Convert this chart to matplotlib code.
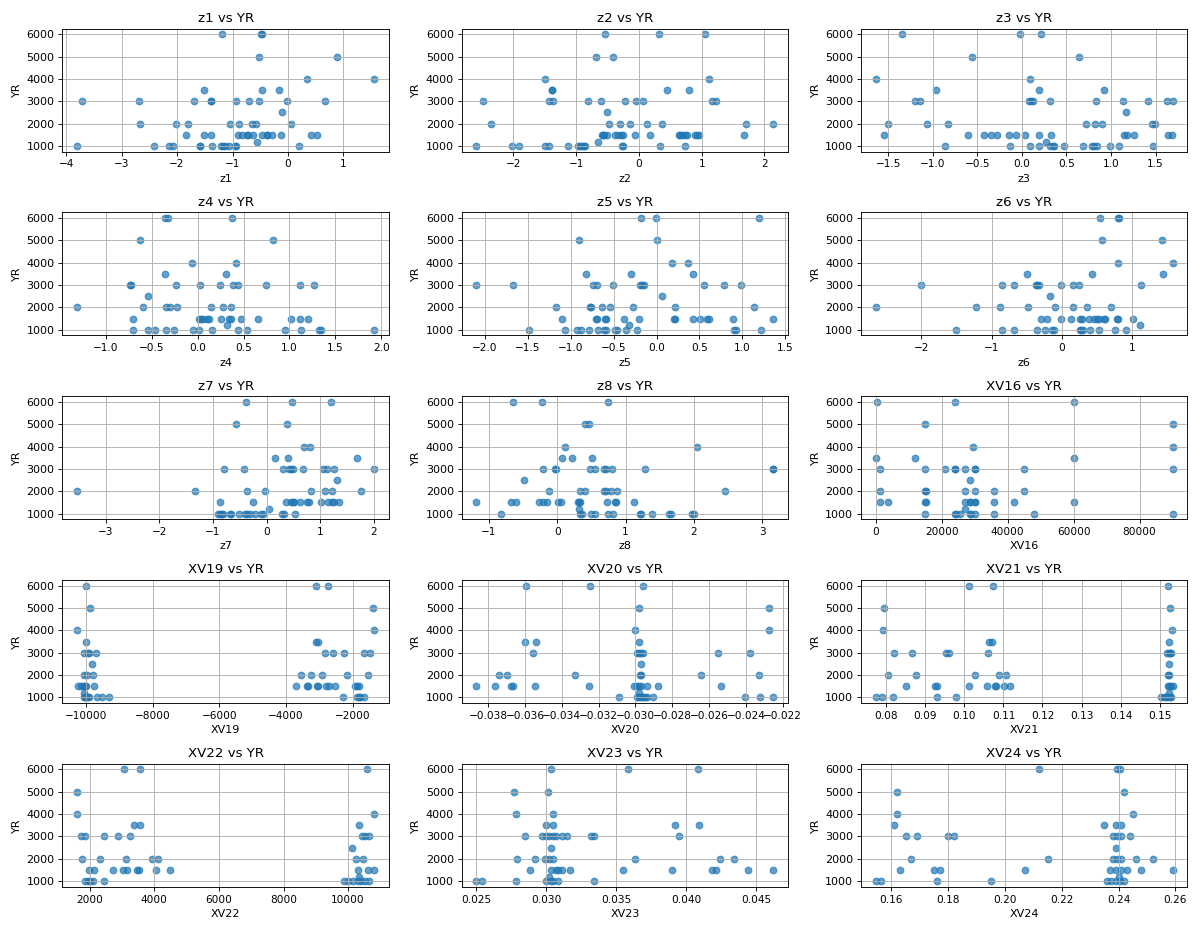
import matplotlib
matplotlib.use("Agg")
import matplotlib.pyplot as plt

# YR values, grouped by level (6000, 5000, 4000, 3500, 3000, 2500, 2000, 1500, 1200, 1000)

z1_x = [-1.19, -0.48, -0.47,
        -0.52, 0.89,
        0.34, 1.55,
        -1.52, -0.47, -0.17,
        -3.71, -2.68, -1.70, -1.39, -1.38, -0.93, -0.70, -0.53, -0.02, 0.66,
        -0.10,
        -2.66, -2.01, -1.81, -1.04, -0.89, -0.65, -0.57, 0.06,
        -1.83, -1.52, -1.39, -0.90, -0.83, -0.74, -0.72, -0.63, -0.46, -0.38, -0.37, -0.29, -0.13, 0.41, 0.52,
        -0.56,
        -3.80, -2.41, -2.14, -2.07, -1.59, -1.58, -1.37, -1.21, -1.18, -1.14, -1.06, -0.96, -0.94, 0.19]
z1_y = [6000]*3 + [5000]*2 + [4000]*2 + [3500]*3 + [3000]*10 + [2500] + [2000]*8 + [1500]*15 + [1200] + [1000]*14

z2_x = [-0.54, 0.32, 1.06,
        -0.69, -0.42,
        -1.50, 1.12,
        -1.39, -1.38, 0.44, 0.80,
        -2.49, -1.43, -1.37, -0.82, -0.60, -0.22, -0.05, 0.06, 1.17, 1.22,
        -0.51,
        -2.36, -0.47, -0.30, -0.15, 0.13, 0.36, 1.70, 2.14,
        -0.59, -0.57, -0.55, -0.51, -0.39, -0.33, -0.29, -0.26, -0.06, 0.18, 0.64, 0.66, 0.68, 0.73, 0.77, 0.90, 0.92, 0.95, 1.67,
        -0.66,
        -2.59, -2.03, -1.91, -1.50, -1.44, -1.13, -0.97, -0.94, -0.91, -0.88, -0.86, -0.27, -0.26, 0.33, 0.73]
z2_y = [6000]*3 + [5000]*2 + [4000]*2 + [3500]*4 + [3000]*10 + [2500] + [2000]*8 + [1500]*19 + [1200] + [1000]*15

z3_x = [-1.34, -0.02, 0.21,
        -0.56, 0.64,
        -1.64, 0.09,
        -0.96, 0.19, 0.92,
        -1.20, -1.14, 0.08, 0.10, 0.12, 0.32, 0.83, 1.13, 1.42, 1.63, 1.69,
        1.17,
        -1.50, -1.06, -0.83, 0.72, 0.82, 0.90, 1.46, 1.49,
        -1.55, -0.60, -0.42, -0.35, -0.28, -0.14, -0.07, 0.04, 0.19, 0.33, 1.15, 1.18, 1.26, 1.64, 1.68,
        0.27,
        -0.86, -0.13, 0.09, 0.19, 0.32, 0.35, 0.36, 0.47, 0.69, 0.79, 0.81, 0.84, 0.99, 1.09, 1.47]
z3_y = [6000]*3 + [5000]*2 + [4000]*2 + [3500]*3 + [3000]*11 + [2500] + [2000]*8 + [1500]*15 + [1200] + [1000]*15

z4_x = [-0.35, -0.32, 0.37,
        -0.63, 0.82,
        -0.06, 0.42,
        -0.35, 0.31,
        -0.73, -0.72, -0.23, 0.03, 0.24, 0.39, 0.44, 0.75, 1.12, 1.27,
        -0.54,
        -1.31, -0.59, -0.34, -0.30, -0.22, 0.15, 0.28, 0.36,
        -0.70, 0.02, 0.04, 0.06, 0.10, 0.12, 0.26, 0.34, 0.36, 0.47, 0.66, 1.02, 1.12, 1.20,
        0.32,
        -0.70, -0.54, -0.46, -0.34, -0.26, -0.05, 0.02, 0.16, 0.44, 0.54, 0.95, 1.13, 1.32, 1.34, 1.92]
z4_y = [6000]*3 + [5000]*2 + [4000]*2 + [3500]*2 + [3000]*10 + [2500] + [2000]*8 + [1500]*14 + [1200] + [1000]*15

z5_x = [-0.18, -0.01, 1.19,
        -0.90, 0.00,
        0.18, 0.37,
        -0.82, -0.30, 0.42,
        -2.10, -1.67, -0.74, -0.70, -0.51, -0.19, -0.17, -0.15, 0.55, 0.78, 0.98,
        0.06,
        -1.17, -0.78, -0.76, -0.64, -0.54, -0.28, 0.21, 1.14,
        -1.10, -0.71, -0.69, -0.60, -0.59, -0.38, -0.21, 0.20, 0.22, 0.42, 0.51, 0.59, 0.61, 0.89, 1.36,
        -0.32,
        -1.49, -1.07, -0.93, -0.88, -0.79, -0.68, -0.61, -0.59, -0.49, -0.46, -0.36, -0.23, 0.90, 0.93, 1.22]
z5_y = [6000]*3 + [5000]*2 + [4000]*2 + [3500]*3 + [3000]*11 + [2500] + [2000]*8 + [1500]*15 + [1200] + [1000]*15

z6_x = [0.54, 0.79, 0.81,
        0.56, 1.42,
        0.79, 1.57,
        -0.50, 0.42, 1.43,
        -2.01, -0.85, -0.69, -0.37, -0.36, -0.33, -0.01, 0.16, 0.24, 1.12,
        -0.17,
        -2.65, -1.23, -0.88, -0.49, -0.10, 0.15, 0.36, 0.70,
        -0.30, -0.21, -0.01, 0.13, 0.26, 0.28, 0.38, 0.46, 0.50, 0.53, 0.59, 0.61, 0.78, 0.80, 1.01,
        1.11,
        -1.51, -0.86, -0.69, -0.36, -0.24, -0.15, -0.11, 0.25, 0.27, 0.30, 0.39, 0.52, 0.75, 0.91]
z6_y = [6000]*3 + [5000]*2 + [4000]*2 + [3500]*3 + [3000]*10 + [2500] + [2000]*8 + [1500]*15 + [1200] + [1000]*14

z7_x = [-0.38, 0.48, 1.20,
        -0.57, 0.38,
        0.69, 0.81,
        0.15, 0.40, 1.68,
        -0.79, -0.42, 0.31, 0.42, 0.46, 0.50, 0.68, 1.05, 1.12, 1.26, 2.00,
        1.32,
        -3.53, -1.33, -0.37, -0.03, 0.83, 1.08, 1.22, 1.75,
        -0.87, -0.25, 0.37, 0.46, 0.49, 0.51, 0.63, 0.75, 0.78, 1.01, 1.14, 1.21, 1.25, 1.34,
        0.05,
        -0.90, -0.87, -0.84, -0.81, -0.68, -0.66, -0.52, -0.40, -0.37, -0.31, -0.22, -0.10, -0.07, 0.29, 0.32, 0.52]
z7_y = [6000]*3 + [5000]*2 + [4000]*2 + [3500]*3 + [3000]*11 + [2500] + [2000]*8 + [1500]*14 + [1200] + [1000]*16

z8_x = [-0.64, -0.22, 0.74,
        0.40, 0.47,
        0.11, 2.04,
        0.07, 0.22, 0.51,
        -0.21, -0.03, -0.01, 0.48, 0.56, 0.69, 0.71, 0.80, 1.28, 3.15, 3.16,
        -0.48,
        -0.12, 0.33, 0.41, 0.69, 0.71, 0.79, 0.88, 2.45,
        -1.18, -0.68, -0.60, -0.26, -0.20, -0.15, 0.01, 0.06, 0.30, 0.32, 0.34, 0.73, 0.85, 0.86, 1.13,
        0.32,
        -0.82, 0.34, 0.37, 0.49, 0.56, 0.74, 0.81, 1.21, 1.23, 1.39, 1.63, 1.66, 1.97, 2.00]
z8_y = [6000]*3 + [5000]*2 + [4000]*2 + [3500]*3 + [3000]*11 + [2500] + [2000]*8 + [1500]*15 + [1200] + [1000]*14

xv16_x = [300, 24000, 60000,
          15000, 90000,
          29400, 90000,
          0, 12000, 60000,
          1300, 15000, 21000, 24000, 24100, 27000, 30000, 30200, 45000, 90000,
          28500,
          1400, 15000, 15100, 27000, 30000, 36000, 45000,
          1400, 3800, 15000, 15100, 27000, 28500, 28700, 30000, 30200, 36000, 42000, 60000,
          27000,
          15000, 24000, 24300, 25500, 28500, 28800, 30000, 36000, 48000, 90000]
xv16_y = [6000]*3 + [5000]*2 + [4000]*2 + [3500]*3 + [3000]*10 + [2500] + [2000]*7 + [1500]*12 + [1200] + [1000]*10

xv19_x = [-9990, -3110, -2760,
          -9870, -1400,
          -10260, -1370,
          -9990, -3110, -3050,
          -10070, -9950, -9900, -9700, -2840, -2590, -2280, -1660, -1500,
          -9820,
          -10070, -9970, -9780, -3550, -3260, -2920, -2170, -1550,
          -10230, -10140, -10090, -10040, -9990, -9760, -3720, -3390, -3360, -3080, -3050, -2820, -2730, -2540, -1940, -1890, -1820,
          -10070,
          -10070, -10030, -9990, -9950, -9910, -9670, -9530, -9310, -2300, -1870, -1830, -1780, -1680]
xv19_y = [6000]*3 + [5000]*2 + [4000]*2 + [3500]*3 + [3000]*9 + [2500] + [2000]*8 + [1500]*17 + [1200] + [1000]*13

xv20_x = [-0.03595, -0.03249, -0.02960,
          -0.02979, -0.02272,
          -0.03002, -0.02272,
          -0.03597, -0.03537, -0.02979,
          -0.03557, -0.02990, -0.02980, -0.02970, -0.02960, -0.02549, -0.02379,
          -0.02970,
          -0.03742, -0.03698, -0.03330, -0.02975, -0.02968, -0.02645, -0.02326,
          -0.03863, -0.03765, -0.03676, -0.03667, -0.03547, -0.03250, -0.03010, -0.02990, -0.02980, -0.02970, -0.02936, -0.02878, -0.02536,
          -0.02980,
          -0.03091, -0.02990, -0.02983, -0.02975, -0.02966, -0.02957, -0.02947, -0.02938, -0.02906, -0.02407, -0.02321, -0.02251]
xv20_y = [6000]*3 + [5000]*2 + [4000]*2 + [3500]*3 + [3000]*7 + [2500] + [2000]*7 + [1500]*13 + [1200] + [1000]*12

xv21_x = [0.1013, 0.1072, 0.1521,
          0.0793, 0.1526,
          0.0792, 0.1532,
          0.1062, 0.1071, 0.1525,
          0.0821, 0.0866, 0.0954, 0.0960, 0.1061, 0.1519, 0.1523, 0.1527, 0.1530,
          0.1525,
          0.0805, 0.0877, 0.1028, 0.1089, 0.1106, 0.1522, 0.1525,
          0.0851, 0.0926, 0.0931, 0.1013, 0.1059, 0.1079, 0.1082, 0.1102, 0.1117, 0.1521, 0.1525, 0.1529, 0.1533,
          0.1525,
          0.0773, 0.0790, 0.0818, 0.0931, 0.0978, 0.1504, 0.1511, 0.1516, 0.1522, 0.1526, 0.1530]
xv21_y = [6000]*3 + [5000]*2 + [4000]*2 + [3500]*3 + [3000]*9 + [2500] + [2000]*7 + [1500]*13 + [1200] + [1000]*11

xv22_x = [3050, 3560, 10570,
          1610,
          1610, 10800,
          3380, 3560, 10350,
          1730, 1850, 2450, 2870, 3230, 10440, 10530, 10650,
          10110,
          1760, 2330, 3110, 3920, 4100, 10230, 10470,
          1970, 2120, 2720, 3020, 3140, 3470, 3530, 4040, 4490, 10290, 10620, 10800,
          10350,
          1850, 1930, 2010, 2090, 2450, 9870, 10000, 10150, 10290, 10410, 10530, 10650]
xv22_y = [6000]*3 + [5000] + [4000]*2 + [3500]*3 + [3000]*8 + [2500] + [2000]*7 + [1500]*12 + [1200] + [1000]*12

xv23_x = [0.0303, 0.0358, 0.0408,
          0.0277, 0.0301,
          0.0278, 0.0305,
          0.0300, 0.0305, 0.0392, 0.0409,
          0.0285, 0.0297, 0.0300, 0.0302, 0.0305, 0.0307, 0.0311, 0.0315, 0.0332, 0.0334, 0.0395,
          0.0303,
          0.0279, 0.0292, 0.0299, 0.0302, 0.0305, 0.0363, 0.0424, 0.0434,
          0.0288, 0.0303, 0.0307, 0.0311, 0.0317, 0.0355, 0.0390, 0.0418, 0.0421, 0.0444, 0.0462, 0.0308,
          0.0302,
          0.0250, 0.0254, 0.0278, 0.0300, 0.0303, 0.0305, 0.0308, 0.0334]
xv23_y = [6000]*3 + [5000]*2 + [4000]*2 + [3500]*4 + [3000]*11 + [2500] + [2000]*8 + [1500]*12 + [1200] + [1000]*8

xv24_x = [0.212, 0.2395, 0.2405,
          0.162, 0.242,
          0.162, 0.245,
          0.161, 0.235, 0.239, 0.241,
          0.165, 0.169, 0.180, 0.182, 0.238, 0.2395, 0.241, 0.244,
          0.239,
          0.167, 0.215, 0.238, 0.2395, 0.241, 0.246, 0.252,
          0.163, 0.175, 0.177, 0.207, 0.237, 0.239, 0.241, 0.243, 0.248, 0.259,
          0.240,
          0.1545, 0.1565, 0.176, 0.195, 0.236, 0.2375, 0.239, 0.2405, 0.242]
xv24_y = [6000]*3 + [5000]*2 + [4000]*2 + [3500]*4 + [3000]*8 + [2500] + [2000]*7 + [1500]*10 + [1200] + [1000]*9

names = ["z1", "z2", "z3", "z4", "z5", "z6", "z7", "z8", "XV16",
         "XV19", "XV20", "XV21", "XV22", "XV23", "XV24"]
xs = [z1_x, z2_x, z3_x, z4_x, z5_x, z6_x, z7_x, z8_x, xv16_x,
      xv19_x, xv20_x, xv21_x, xv22_x, xv23_x, xv24_x]
ys = [z1_y, z2_y, z3_y, z4_y, z5_y, z6_y, z7_y, z8_y, xv16_y,
      xv19_y, xv20_y, xv21_y, xv22_y, xv23_y, xv24_y]
yr_ticks = [1000, 2000, 3000, 4000, 5000, 6000]

fig, axes = plt.subplots(5, 3, figsize=(15.0125, 11.6375), dpi=80)

for ax, name, x, y in zip(axes.flat, names, xs, ys):
    ax.scatter(x, y, alpha=0.7)
    ax.set_title(name + " vs YR")
    ax.set_xlabel(name)
    ax.set_ylabel("YR")
    ax.set_yticks(yr_ticks)
    ax.tick_params(axis="x", labelsize=9.5)
    ax.grid(True)

plt.tight_layout()
plt.savefig("out.png")
